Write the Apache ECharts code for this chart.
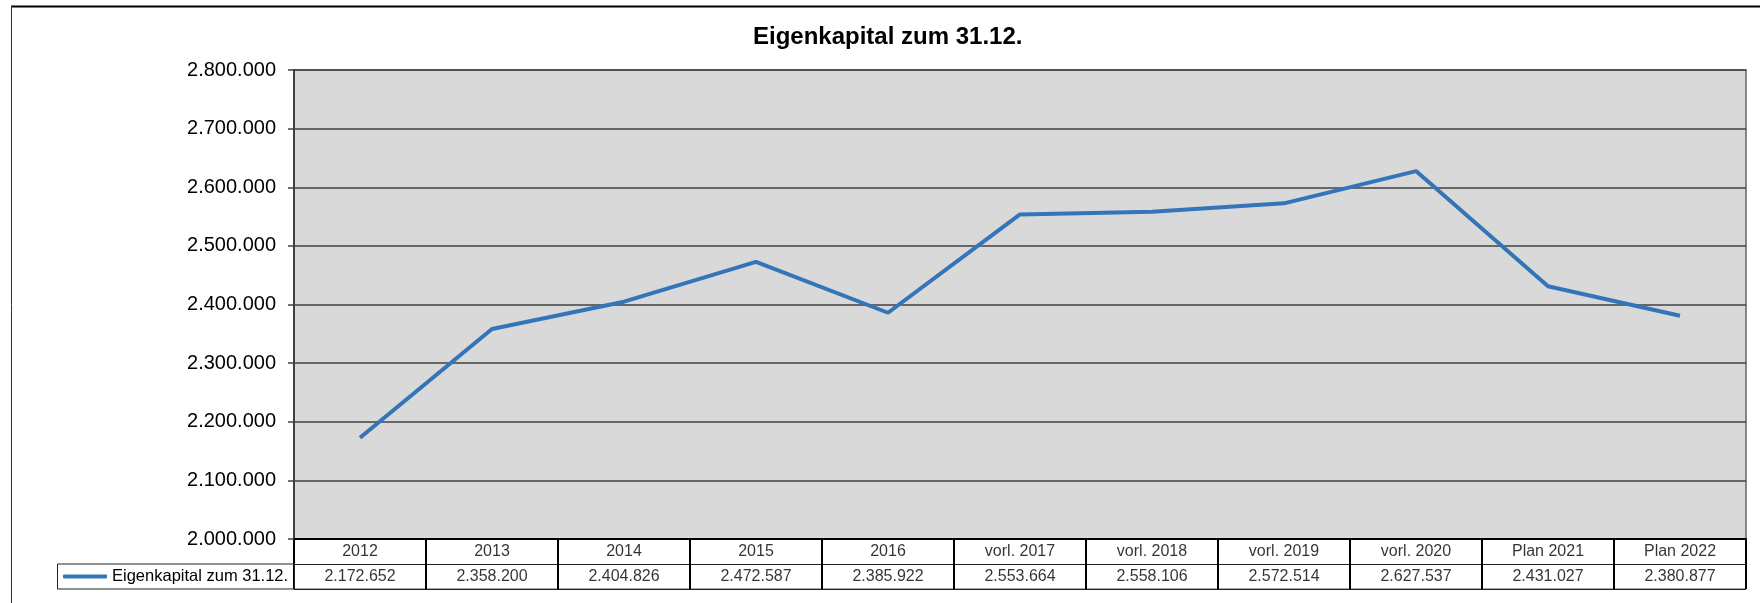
<!DOCTYPE html>
<html>
<head>
<meta charset="utf-8">
<title>Eigenkapital zum 31.12.</title>
<script src="https://cdn.jsdelivr.net/npm/echarts@6/dist/echarts.min.js"></script>
<style>
  html, body { margin: 0; padding: 0; background: #fff; }
  #chart { width: 1760px; height: 603px; }
</style>
</head>
<body>
<div id="chart"></div>
<script>
  // Daten aus der Tabelle unter dem Diagramm
  var categories = ['2012', '2013', '2014', '2015', '2016', 'vorl. 2017', 'vorl. 2018',
                    'vorl. 2019', 'vorl. 2020', 'Plan 2021', 'Plan 2022'];
  var eigenkapital = [2172652, 2358200, 2404826, 2472587, 2385922, 2553664, 2558106,
                      2572514, 2627537, 2431027, 2380877];
  var seriesName = 'Eigenkapital zum 31.12.';
  var yMin = 2000000, yMax = 2800000, yStep = 100000;

  var font = '"Liberation Sans", Arial, sans-serif';

  function fmt(v) {
    return String(v).replace(/\B(?=(\d{3})+(?!\d))/g, '.');
  }

  var myChart = echarts.init(document.getElementById('chart'));

  myChart.setOption({
    animation: false,
    title: {
      text: seriesName,
      left: 753,
      top: 25,
      padding: 0,
      textStyle: { fontFamily: font, fontSize: 24, fontWeight: 'bold', color: '#000' }
    },
    legend: {
      data: [seriesName],
      left: 63,
      top: 568,
      padding: 0,
      icon: 'roundRect',
      itemWidth: 44,
      itemHeight: 4,
      selectedMode: false,
      textStyle: { fontFamily: font, fontSize: 16.5, color: '#000' }
    },
    grid: [
      { // Diagrammfläche
        left: 294, top: 70, width: 1452, height: 469,
        show: true, backgroundColor: '#d9d9d9',
        borderColor: '#868686', borderWidth: 2
      },
      { // Datentabelle
        left: 294, top: 539, width: 1452, height: 50,
        show: true, backgroundColor: '#fff',
        borderColor: '#555', borderWidth: 1
      }
    ],
    xAxis: [
      {
        gridIndex: 0,
        type: 'category',
        data: categories,
        boundaryGap: true,
        axisLine: { lineStyle: { color: '#000', width: 2 } },
        axisTick: { show: false },
        axisLabel: { show: false }
      },
      {
        gridIndex: 1,
        type: 'category',
        data: categories,
        boundaryGap: true,
        axisLine: { show: false },
        axisTick: { show: false },
        axisLabel: { show: false },
        splitLine: { show: true, interval: 0, lineStyle: { color: '#000', width: 2 } }
      }
    ],
    yAxis: [
      {
        gridIndex: 0,
        type: 'value',
        min: yMin,
        max: yMax,
        interval: yStep,
        axisLine: { show: true, lineStyle: { color: '#404040', width: 2 } },
        axisTick: { show: true, length: 6, lineStyle: { color: '#404040', width: 1.5 } },
        axisLabel: {
          margin: 18,
          fontFamily: font, fontSize: 20, color: '#000',
          formatter: function (v) { return fmt(v); }
        },
        splitLine: { show: true, lineStyle: { color: '#404040', width: 1.5 } }
      },
      {
        gridIndex: 1,
        type: 'category',
        data: ['wert', 'jahr'],
        axisLine: { show: false },
        axisTick: { show: false },
        axisLabel: { show: false },
        splitLine: { show: true, interval: 0, lineStyle: { color: '#222', width: 1 } }
      }
    ],
    graphic: [
      { type: 'line', silent: true, shape: { x1: 11, y1: 6.5, x2: 1760, y2: 6.5 }, style: { stroke: '#000', lineWidth: 2 } },
      { type: 'line', silent: true, shape: { x1: 11.5, y1: 6, x2: 11.5, y2: 603 }, style: { stroke: '#333', lineWidth: 1 } },
      { type: 'rect', silent: true, z: 10, shape: { x: 57.5, y: 564, width: 237, height: 25 },
        style: { fill: 'none', stroke: '#222', lineWidth: 1 } }
    ],
    series: [
      {
        name: seriesName,
        type: 'line',
        xAxisIndex: 0,
        yAxisIndex: 0,
        data: eigenkapital,
        symbol: 'none',
        color: '#3474b8',
        lineStyle: { width: 4, color: '#3474b8' },
        z: 5
      },
      { // Zeile mit Jahren
        type: 'scatter',
        xAxisIndex: 1,
        yAxisIndex: 1,
        symbolSize: 0,
        silent: true,
        data: categories.map(function (c, i) { return [i, 'jahr', c]; }),
        label: {
          show: true, position: 'inside',
          fontFamily: font, fontSize: 16, color: '#000',
          formatter: function (p) { return p.data[2]; }
        }
      },
      { // Zeile mit Werten
        type: 'scatter',
        xAxisIndex: 1,
        yAxisIndex: 1,
        symbolSize: 0,
        silent: true,
        data: eigenkapital.map(function (v, i) { return [i, 'wert', fmt(v)]; }),
        label: {
          show: true, position: 'inside',
          fontFamily: font, fontSize: 16, color: '#000',
          formatter: function (p) { return p.data[2]; }
        }
      }
    ]
  });
</script>
</body>
</html>
